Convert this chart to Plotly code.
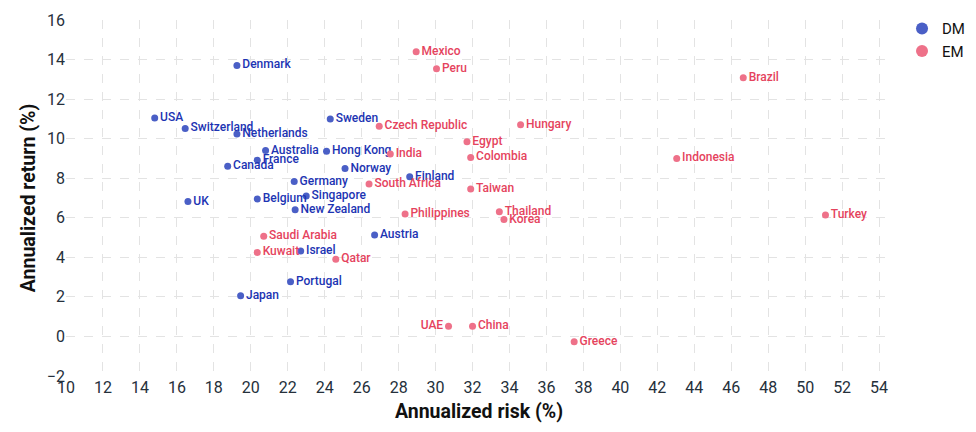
import plotly.graph_objects as go

# developed markets
dm_names = ["Denmark", "USA", "Switzerland", "Netherlands", "Sweden", "Australia",
            "Hong Kong", "France", "Canada", "Norway", "Finland", "Germany", "UK",
            "Belgium", "Singapore", "New Zealand", "Austria", "Israel", "Portugal", "Japan"]
dm_risk = [19.25, 14.8, 16.45, 19.25, 24.3, 20.8, 24.1, 20.35, 18.75, 25.1, 28.6, 22.35,
           16.6, 20.35, 23.0, 22.4, 26.7, 22.7, 22.15, 19.45]
dm_return = [13.7, 11.05, 10.52, 10.23, 10.99, 9.4, 9.37, 8.91, 8.61, 8.49, 8.07, 7.83,
             6.82, 6.95, 7.1, 6.4, 5.13, 4.32, 2.77, 2.06]

# emerging markets
em_names = ["Mexico", "Peru", "Brazil", "Czech Republic", "Hungary", "Egypt", "India",
            "Colombia", "Indonesia", "South Africa", "Taiwan", "Philippines", "Thailand",
            "Turkey", "Korea", "Saudi Arabia", "Kuwait", "Qatar", "UAE", "China", "Greece"]
em_risk = [28.95, 30.05, 46.65, 26.95, 34.6, 31.7, 27.55, 31.9, 43.05, 26.4, 31.9, 28.35,
           33.45, 51.1, 33.7, 20.7, 20.35, 24.6, 30.7, 32.0, 37.5]
em_return = [14.4, 13.53, 13.08, 10.63, 10.7, 9.84, 9.22, 9.05, 9.0, 7.71, 7.46, 6.19,
             6.31, 6.14, 5.91, 5.06, 4.25, 3.9, 0.51, 0.52, -0.27]

x_ticks = list(range(10, 56, 2))
y_ticks = list(range(-2, 17, 2))

DM_DOT = "#4a5fc6"
DM_TEXT = "#1c34b3"
EM_DOT = "#ee7189"
EM_TEXT = "#e5435d"

fig = go.Figure()

fig.add_trace(go.Scatter(
    x=dm_risk, y=dm_return, text=dm_names, name="DM",
    mode="markers+text", textposition="middle right",
    marker=dict(color=DM_DOT, size=7),
    textfont=dict(family="Roboto", size=12, color=DM_TEXT, weight=500),
))

em_pos = ["middle left" if n == "UAE" else "middle right" for n in em_names]
fig.add_trace(go.Scatter(
    x=em_risk, y=em_return, text=em_names, name="EM",
    mode="markers+text", textposition=em_pos,
    marker=dict(color=EM_DOT, size=7),
    textfont=dict(family="Roboto", size=12, color=EM_TEXT, weight=500),
))

axis_common = dict(
    showgrid=True, gridcolor="#e3e3e3", griddash="dash", gridwidth=1,
    zeroline=False, showline=False, ticks="", automargin=False,
    tickfont=dict(family="Roboto", size=16, color="#25303b"),
)

fig.update_xaxes(
    range=[10, 54.7], tickvals=x_ticks,
    title=dict(text="Annualized risk (%)", standoff=8,
               font=dict(family="Roboto", size=19.5, color="#111111", weight="bold")),
    **axis_common,
)
fig.update_yaxes(
    range=[-2, 16], tickvals=y_ticks,
    title=dict(text="Annualized return (%)", standoff=6,
               font=dict(family="Roboto", size=19.5, color="#111111", weight="bold")),
    **axis_common,
)

# the page body adds 8px on the left and top, so the margins absorb it
fig.update_layout(
    width=976, height=432,
    margin=dict(l=58, r=92, t=12, b=64, autoexpand=False),
    plot_bgcolor="white", paper_bgcolor="white",
    showlegend=True,
    legend=dict(xref="container", yref="container", x=0.916, y=0.99,
                xanchor="left", yanchor="top",
                itemsizing="constant", tracegroupgap=0,
                font=dict(family="Roboto", size=15, color="#111111")),
    font=dict(family="Roboto"),
)

fig.write_html("out.html")
